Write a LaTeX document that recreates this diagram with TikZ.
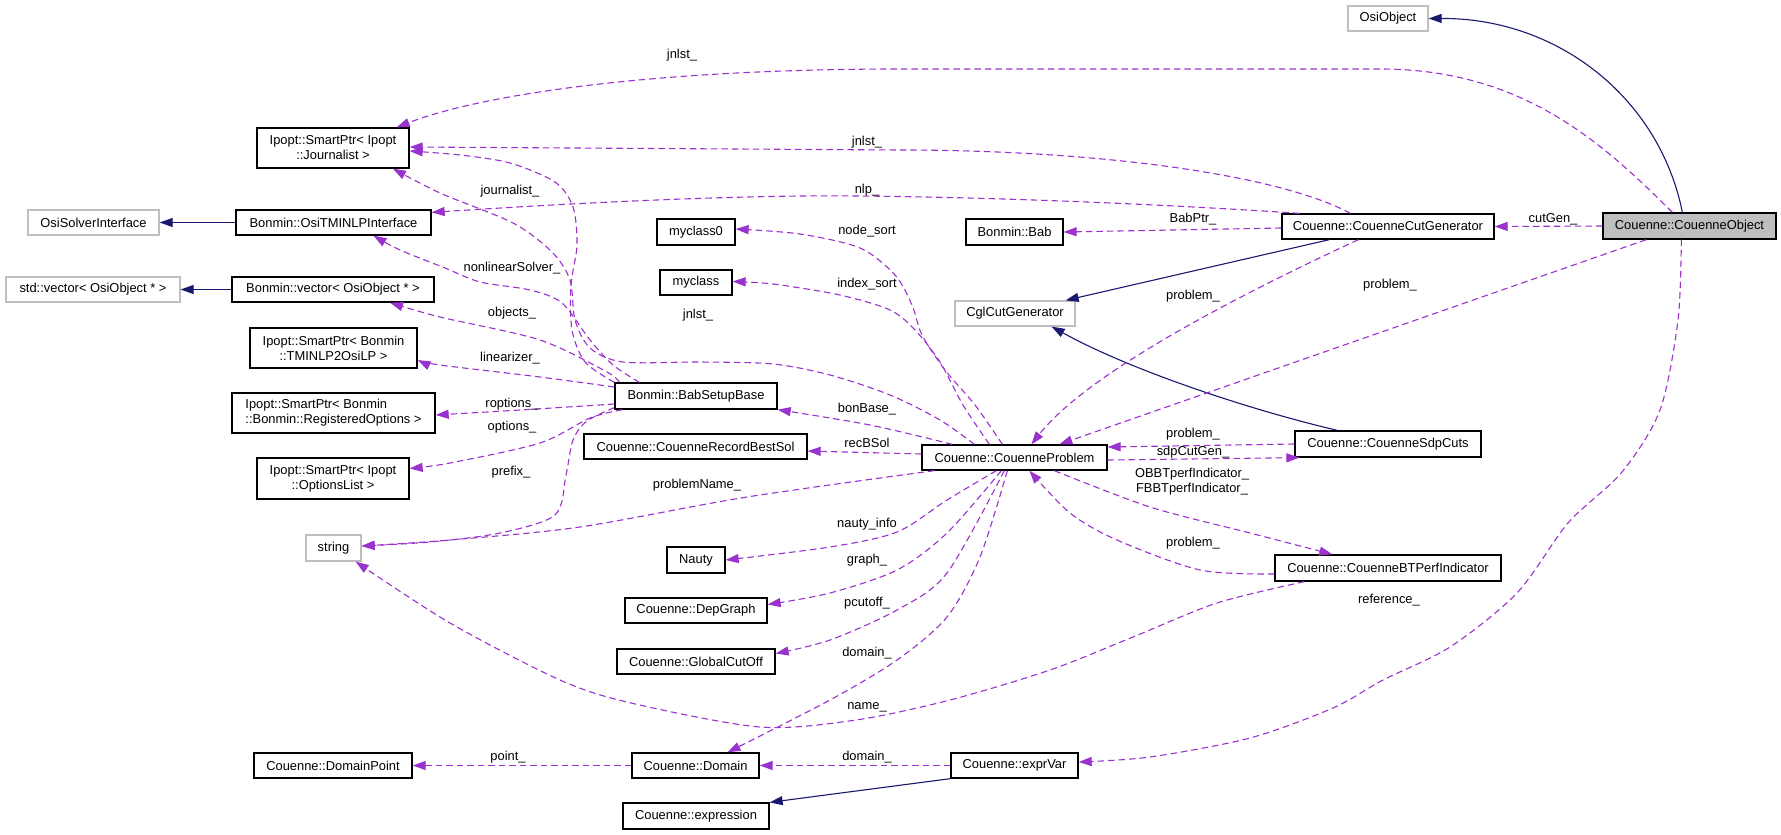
\documentclass[tikz,border=0pt]{standalone}
\usepackage{fontspec}
\setmainfont{Liberation Sans}
\usetikzlibrary{arrows.meta}
\definecolor{usec}{HTML}{9A32CD}
\definecolor{inhc}{HTML}{191970}
\definecolor{extc}{HTML}{BFBFBF}
\begin{document}
\begin{tikzpicture}[x=1pt,y=-1pt,
  every node/.style={font=\fontsize{12.9}{15}\selectfont},
  cls/.style={draw=black, line width=1.3pt, fill=white, inner sep=0pt, align=center},
  ext/.style={cls, draw=extc},
  mainc/.style={cls, fill=extc},
  lbl/.style={inner sep=0pt, align=center},
  use/.style={draw=usec, line width=1.1pt, dash pattern=on 6.5pt off 4pt, -{Triangle[length=13pt,width=9pt]}},
  inh/.style={draw=inhc, line width=1.1pt, -{Triangle[length=13pt,width=9pt]}}]
\fill[white] (0,0) rectangle (1781,835);
\useasboundingbox (0,0) rectangle (1781,835);

% nodes
\node[cls, minimum width=152pt, minimum height=40pt] (jour) at (333,148) {Ipopt::SmartPtr< Ipopt\\::Journalist >};
\node[ext, minimum width=131pt, minimum height=25pt] (osisi) at (93.5,222.5) {OsiSolverInterface};
\node[cls, minimum width=195pt, minimum height=25pt] (otmi) at (333.5,222.5) {Bonmin::OsiTMINLPInterface};
\node[ext, minimum width=174pt, minimum height=25pt] (stdvec) at (93,289.5) {std::vector< OsiObject * >};
\node[cls, minimum width=202pt, minimum height=25pt] (bvec) at (333,289.5) {Bonmin::vector< OsiObject * >};
\node[cls, minimum width=167pt, minimum height=40pt] (tm2) at (333.5,348) {Ipopt::SmartPtr< Bonmin\\::TMINLP2OsiLP >};
\node[cls, align=left, minimum width=203pt, minimum height=40pt] (ropt) at (333.5,413) {Ipopt::SmartPtr< Bonmin\\::Bonmin::RegisteredOptions >};
\node[cls, minimum width=152pt, minimum height=41pt] (olist) at (333,478.5) {Ipopt::SmartPtr< Ipopt\\::OptionsList >};
\node[ext, minimum width=55pt, minimum height=26pt] (string) at (333.5,548) {string};
\node[cls, minimum width=158pt, minimum height=25pt] (dpoint) at (333,765.5) {Couenne::DomainPoint};
\node[cls, minimum width=78pt, minimum height=26pt] (myclass0) at (696,232) {myclass0};
\node[cls, minimum width=72pt, minimum height=25pt] (myclass) at (696,282.5) {myclass};
\node[cls, minimum width=162pt, minimum height=26pt] (bsb) at (696,396) {Bonmin::BabSetupBase};
\node[cls, minimum width=223pt, minimum height=25pt] (rbs) at (695.5,446.5) {Couenne::CouenneRecordBestSol};
\node[cls, minimum width=58pt, minimum height=26pt] (nauty) at (696,560) {Nauty};
\node[cls, minimum width=142pt, minimum height=25pt] (depg) at (696,610.5) {Couenne::DepGraph};
\node[cls, minimum width=158pt, minimum height=25pt] (gco) at (696,661.5) {Couenne::GlobalCutOff};
\node[cls, minimum width=127pt, minimum height=25pt] (domain) at (695.5,765.5) {Couenne::Domain};
\node[cls, minimum width=146pt, minimum height=26pt] (expr) at (696,816) {Couenne::expression};
\node[cls, minimum width=97pt, minimum height=26pt] (bab) at (1014.5,232) {Bonmin::Bab};
\node[ext, minimum width=120pt, minimum height=25pt] (cgl) at (1015,313.5) {CglCutGenerator};
\node[cls, minimum width=185pt, minimum height=25pt] (cprob) at (1014.5,457.5) {Couenne::CouenneProblem};
\node[cls, minimum width=127pt, minimum height=25pt] (exprvar) at (1014.5,765.5) {Couenne::exprVar};
\node[cls, minimum width=212pt, minimum height=25pt] (ccg) at (1388,226.5) {Couenne::CouenneCutGenerator};
\node[cls, minimum width=186pt, minimum height=26pt] (sdp) at (1388,444) {Couenne::CouenneSdpCuts};
\node[cls, minimum width=226pt, minimum height=26pt] (btp) at (1388,568) {Couenne::CouenneBTPerfIndicator};
\node[ext, minimum width=80pt, minimum height=25pt] (osiobj) at (1388,18.5) {OsiObject};
\node[mainc, minimum width=173pt, minimum height=26pt] (cobj) at (1689.5,226) {Couenne::CouenneObject};

% inheritance
\draw[inh] (otmi.west) -- (osisi.east);
\draw[inh] (bvec.west) -- (stdvec.east);
\draw[inh] ([xshift=48pt]ccg.south west) -- ([xshift=-10pt]cgl.north east);
\draw[inh] ([xshift=43pt]sdp.north west) .. controls (1250,410) and (1130,370) .. ([xshift=-24pt]cgl.south east);
\draw[inh] (exprvar.south west) -- (expr.north east);
\draw[inh] ([xshift=80pt]cobj.north west) .. controls (1660,100) and (1560,18) .. (osiobj.east);

% usage
\draw[use] ([xshift=70pt]cobj.north west) .. controls (1600,140) and (1520,69) .. (1380,69) -- (900,69) .. controls (650,69) and (480,95) .. ([xshift=-13pt]jour.north east);
\draw[use] ([xshift=69pt]ccg.north west) .. controls (1280,175) and (1100,150) .. (900,150) -- ([yshift=1pt]jour.east);
\draw[use] ([xshift=18pt]ccg.north west) .. controls (1100,200) and (900,195) .. (800,196) .. controls (650,198) and (500,208) .. ([yshift=-3pt]otmi.north east);
\draw[use] ([yshift=-1.5pt]ccg.west) -- (bab.east);
\draw[use] ([xshift=77pt]ccg.south west) .. controls (1250,290) and (1090,370) .. ([xshift=110pt]cprob.north west);
\draw[use] ([xshift=44pt]cobj.south west) -- ([xshift=138pt]cprob.north west);
\draw[use] (cobj.west) -- (ccg.east);
\draw[use] plot[smooth] coordinates {([xshift=79pt]cobj.south west) (1678,320) (1660,410) (1622,472) (1568,523) (1517,593) (1450,647) (1383,680) (1333,708) (1250,738) (1150,757) ([yshift=3.5pt]exprvar.east)};
\draw[use] (sdp.west) -- ([yshift=10.5pt]cprob.east);
\draw[use] ([yshift=-2.5pt]cprob.east) -- ([xshift=5pt]sdp.south west);
\draw[use] plot[smooth] coordinates {([xshift=133pt]cprob.south west) (1150,507) (1250,533) ([xshift=58pt]btp.north west)};
\draw[use] plot[smooth] coordinates {([yshift=-6pt]btp.west) (1200,570) (1117,540) (1070,513) ([xshift=108pt]cprob.south west)};
\draw[use] plot[smooth] coordinates {([xshift=30pt]btp.south west) (1217,603) (1133,637) (1050,670) (950,700) (856,720) (760,727) (631,703) (560,680) (450,623) ([xshift=-6pt]string.south east)};
\draw[use] plot[smooth] coordinates {([xshift=13pt]cprob.south west) (747,497) (580,527) (450,540) ([yshift=2pt]string.east)};
\draw[use] plot[smooth] coordinates {([xshift=31pt]cprob.north west) (870,425) (bsb.south east)};
\draw[use] ([yshift=3.5pt]cprob.west) -- ([yshift=-4.5pt]rbs.east);
\draw[use] plot[smooth] coordinates {([xshift=75pt]cprob.south west) (947,500) (897,532) (830,547) (nauty.east)};
\draw[use] plot[smooth] coordinates {([xshift=80pt]cprob.south west) (947,533) (897,570) (830,593) ([yshift=6pt]depg.east)};
\draw[use] plot[smooth] coordinates {([xshift=83pt]cprob.south west) (947,573) (897,610) (830,640) ([yshift=8pt]gco.east)};
\draw[use] plot[smooth] coordinates {([xshift=86pt]cprob.south west) (980,557) (947,617) (897,660) (830,700) ([xshift=32pt]domain.north)};
\draw[use] (exprvar.west) -- (domain.east);
\draw[use] (domain.west) -- (dpoint.east);
\draw[use] plot[smooth] coordinates {([xshift=81pt]cprob.north west) (975,405) (945,370) (922,335) (912,305) (895,275) (860,248) (800,234) ([yshift=3pt]myclass0.east)};
\draw[use] plot[smooth] coordinates {([xshift=68pt]cprob.north west) (963,405) (940,362) (915,330) (890,310) (840,295) (773,284) ([yshift=1pt]myclass.east)};
\draw[use] plot[smooth] coordinates {([xshift=53pt]cprob.north west) (940,420) (890,395) (830,375) (773,364) (700,362) (623,362) (590,348) (575,320) (570,280) (552,252) (513,223) (440,193) ([xshift=60pt]jour.south)};
\draw[use] plot[smooth] coordinates {(bsb.north west) (585,362) (572,330) (571,285) (577,245) (573,207) (555,182) (510,163) (460,155) ([yshift=-3pt]jour.east)};
\draw[use] plot[smooth] coordinates {([xshift=25pt]bsb.north west) (613,365) (590,340) (562,303) (530,290) (480,282) (445,268) (400,250) ([xshift=40pt]otmi.south)};
\draw[use] plot[smooth] coordinates {([xshift=5pt]bsb.north west) (607,372) (540,340) (440,317) ([xshift=57pt]bvec.south)};
\draw[use] plot[smooth] coordinates {([yshift=9pt]bsb.west) (540,377) (440,365) ([yshift=-12pt]tm2.east)};
\draw[use] plot[smooth] coordinates {([yshift=-8pt]bsb.west) (520,410) ([yshift=-2pt]ropt.east)};
\draw[use] plot[smooth] coordinates {([xshift=8pt]bsb.south west) (590,418) (540,443) (450,463) ([yshift=10pt]olist.east)};
\draw[use] plot[smooth] coordinates {([yshift=2pt]bsb.south west) (587,421) (573,440) (566,475) (555,515) (500,533) (430,542) ([yshift=2pt]string.east)};

% labels
\node[lbl] (l1) at (682,55) {jnlst\_};
\node[lbl] (l2) at (867,142) {jnlst\_};
\node[lbl] (l3) at (867,190) {nlp\_};
\node[lbl] (l4) at (1193,219) {BabPtr\_};
\node[lbl] (l5) at (1553,219) {cutGen\_};
\node[lbl] (l6) at (510,191) {journalist\_};
\node[lbl] (l7) at (867,231) {node\_sort};
\node[lbl] (l8) at (867,284) {index\_sort};
\node[lbl] (l9) at (512,268) {nonlinearSolver\_};
\node[lbl] (l10) at (1193,296) {problem\_};
\node[lbl] (l11) at (1390,285) {problem\_};
\node[lbl] (l12) at (512,313) {objects\_};
\node[lbl] (l13) at (698,315) {jnlst\_};
\node[lbl] (l14) at (510,358) {linearizer\_};
\node[lbl] (l15) at (512,404) {roptions\_};
\node[lbl] (l16) at (867,409) {bonBase\_};
\node[lbl] (l17) at (512,427) {options\_};
\node[lbl] (l18) at (1193,434) {problem\_};
\node[lbl] (l19) at (867,443) {recBSol};
\node[lbl] (l20) at (1193,452) {sdpCutGen\_};
\node[lbl] (l21) at (511,472) {prefix\_};
\node[lbl] (l22) at (1192,482) {OBBTperfIndicator\_\\FBBTperfIndicator\_};
\node[lbl] (l23) at (697,485) {problemName\_};
\node[lbl] (l24) at (867,524) {nauty\_info};
\node[lbl] (l25) at (1193,543) {problem\_};
\node[lbl] (l26) at (867,560) {graph\_};
\node[lbl] (l27) at (1389,600) {reference\_};
\node[lbl] (l28) at (867,603) {pcutoff\_};
\node[lbl] (l29) at (867,653) {domain\_};
\node[lbl] (l30) at (867,707) {name\_};
\node[lbl] (l31) at (867,757) {domain\_};
\node[lbl] (l32) at (508,757) {point\_};
\end{tikzpicture}
\end{document}
